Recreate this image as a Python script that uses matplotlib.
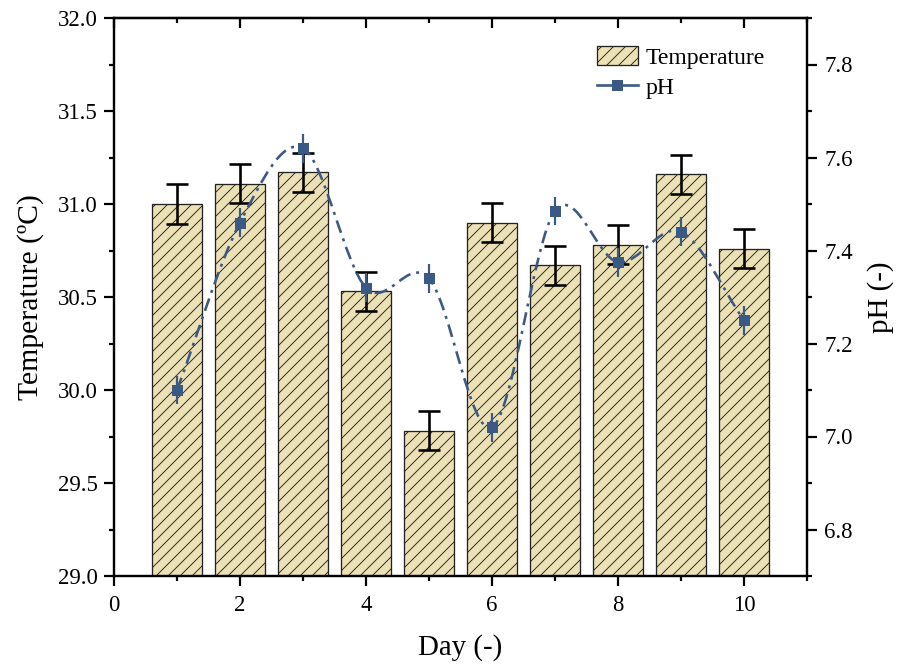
import numpy as np
import matplotlib
matplotlib.use("Agg")
import matplotlib.pyplot as plt
from matplotlib.path import Path
from matplotlib.patches import PathPatch, Patch
from matplotlib.lines import Line2D
from matplotlib.ticker import MultipleLocator, FormatStrFormatter

# ---- data ----
days = [1, 2, 3, 4, 5, 6, 7, 8, 9, 10]
temperature = [31.00, 31.11, 31.17, 30.53, 29.78, 30.90, 30.67, 30.78, 31.16, 30.76]
temperature_err = [0.105, 0.105, 0.105, 0.105, 0.105, 0.105, 0.105, 0.105, 0.105, 0.105]
ph = [7.10, 7.46, 7.62, 7.32, 7.34, 7.02, 7.485, 7.375, 7.44, 7.25]
ph_err = [0.031, 0.031, 0.031, 0.031, 0.031, 0.031, 0.031, 0.031, 0.031, 0.031]

BAR_COLOR = "#ECE0B6"
PH_COLOR = "#3B5985"

plt.rcParams["font.family"] = ["Liberation Serif", "DejaVu Serif"]
plt.rcParams["hatch.linewidth"] = 0.9
plt.rcParams["lines.scale_dashes"] = False

DPI = 72
fig = plt.figure(figsize=(904 / DPI, 668 / DPI), dpi=DPI)
ax = fig.add_axes([114 / 904, 1 - 576 / 668, (807 - 114) / 904, (576 - 18) / 668])
ax2 = ax.twinx()

# bars
ax.bar(days, temperature, width=0.8, color=BAR_COLOR, edgecolor="#222222",
       linewidth=1.3, hatch="//", zorder=2)
ax.errorbar(days, temperature, yerr=temperature_err, fmt="none", ecolor="black",
            elinewidth=2.6, capsize=11, capthick=2.6, zorder=3)

# smooth (Catmull-Rom) connecting curve through the pH points, as bezier path
x = np.asarray(days, float)
y = np.asarray(ph, float)
n = len(x)
m = np.zeros(n)
m[0] = (y[1] - y[0]) / (x[1] - x[0])
m[-1] = (y[-1] - y[-2]) / (x[-1] - x[-2])
for i in range(1, n - 1):
    m[i] = (y[i + 1] - y[i - 1]) / (x[i + 1] - x[i - 1])
verts = [(x[0], y[0])]
codes = [Path.MOVETO]
for i in range(n - 1):
    hi = x[i + 1] - x[i]
    verts += [(x[i] + hi / 3, y[i] + m[i] * hi / 3),
              (x[i + 1] - hi / 3, y[i + 1] - m[i + 1] * hi / 3),
              (x[i + 1], y[i + 1])]
    codes += [Path.CURVE4] * 3
curve = PathPatch(Path(verts, codes), fill=False, edgecolor=PH_COLOR,
                  linewidth=2.6, linestyle=(0, (13, 6, 3, 6)), zorder=2)
ax2.add_patch(curve)
ax2.errorbar(days, ph, yerr=ph_err, fmt="s", color=PH_COLOR, ecolor=PH_COLOR,
             markersize=11, markeredgewidth=0, elinewidth=2.2, capsize=11,
             capthick=2.2, zorder=3)

# axes limits and ticks
ax.set_xlim(0, 11)
ax.set_ylim(29.0, 32.0)
ax2.set_ylim(6.7, 7.9)
ax.xaxis.set_major_locator(MultipleLocator(2))
ax.xaxis.set_minor_locator(MultipleLocator(1))
ax.yaxis.set_major_locator(MultipleLocator(0.5))
ax.yaxis.set_minor_locator(MultipleLocator(0.25))
ax.yaxis.set_major_formatter(FormatStrFormatter("%.1f"))
ax2.yaxis.set_major_locator(MultipleLocator(0.2))
ax2.yaxis.set_minor_locator(MultipleLocator(0.1))
ax2.yaxis.set_major_formatter(FormatStrFormatter("%.1f"))

for a in (ax, ax2):
    for sp in a.spines.values():
        sp.set_linewidth(2.2)

ax.tick_params(axis="both", which="major", direction="out", length=10, width=2.2,
               labelsize=22.8, right=False, top=False)
ax.tick_params(axis="x", which="major", pad=9)
ax.tick_params(axis="y", which="major", pad=6)
ax.tick_params(axis="both", which="minor", direction="out", length=5, width=2.2,
               right=False, top=False)
ax2.tick_params(axis="y", which="major", direction="out", length=10, width=2.2,
                labelsize=22.8, pad=7)
ax2.tick_params(axis="y", which="minor", direction="out", length=5, width=2.2)

top = ax.secondary_xaxis("top")
top.xaxis.set_major_locator(MultipleLocator(2))
top.xaxis.set_minor_locator(MultipleLocator(1))
top.tick_params(which="major", direction="in", length=10, width=2.2, labeltop=False)
top.tick_params(which="minor", direction="in", length=5, width=2.2)
top.spines["top"].set_linewidth(2.2)

ax.set_xlabel("Day (-)", fontsize=29, labelpad=18)
ax.set_ylabel("Temperature (ºC)", fontsize=29.8, labelpad=14)
ax2.set_ylabel("pH (-)", fontsize=29, labelpad=14)

handles = [Patch(facecolor=BAR_COLOR, edgecolor="#222222", hatch="//", linewidth=1.3),
           Line2D([], [], color=PH_COLOR, linestyle="-", linewidth=2.6, marker="s",
                  markersize=11, markeredgewidth=0)]
leg = ax2.legend(handles, ["Temperature", "pH"], loc="upper left",
                 bbox_to_anchor=((597 - 114) / 693, (576 - 46) / 558),
                 frameon=False, fontsize=23.8, borderpad=0, borderaxespad=0,
                 handlelength=1.72, handleheight=0.85, handletextpad=0.33,
                 labelspacing=0.3)

fig.savefig("out.png", dpi=DPI)
